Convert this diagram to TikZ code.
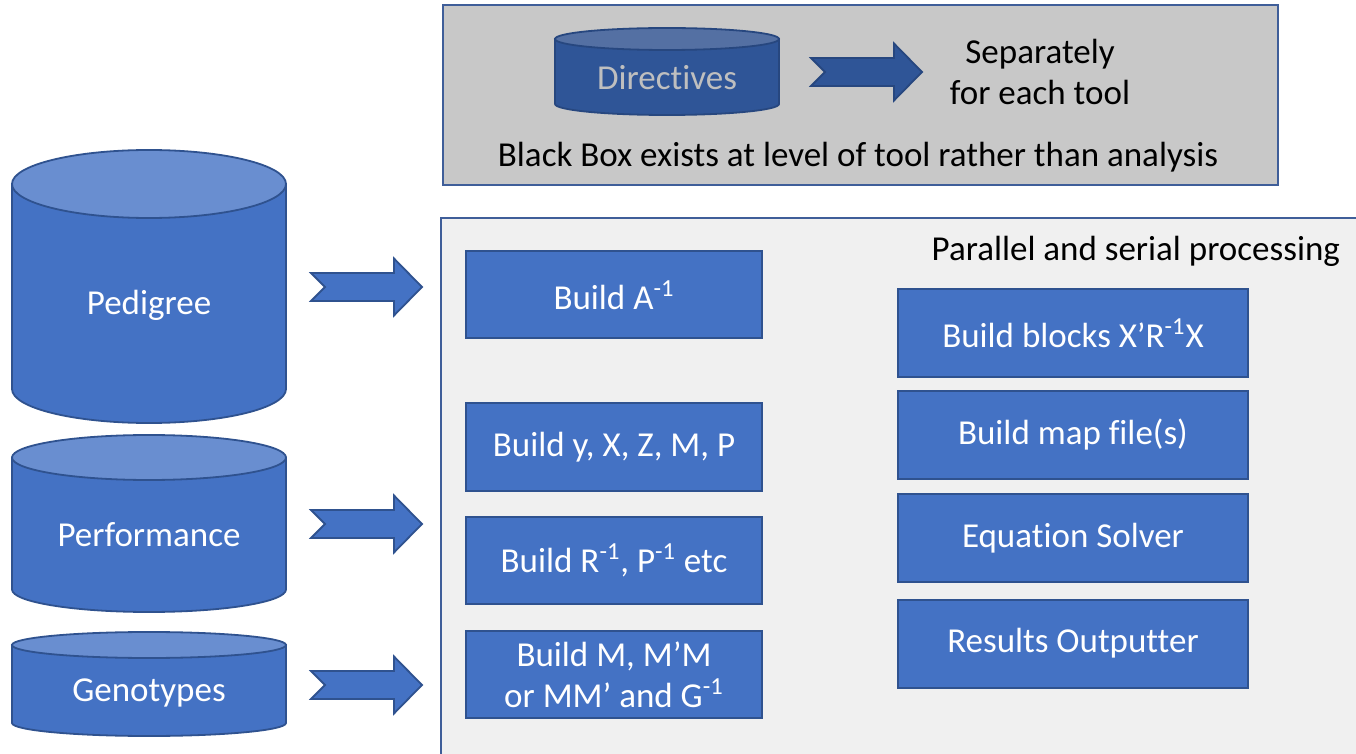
\documentclass[tikz,border=0pt]{standalone}
\usepackage{fontspec}
\setmainfont{Carlito}[Ligatures=NoCommon]

\definecolor{boxblue}{HTML}{4472C4}
\definecolor{boxline}{HTML}{2F528F}
\definecolor{toplight}{HTML}{698ED0}
\definecolor{dirblue}{HTML}{2F5597}
\definecolor{dirtop}{HTML}{5470A3}
\definecolor{dirline}{HTML}{27477F}
\definecolor{panelgray}{HTML}{C8C8C8}
\definecolor{panelline}{HTML}{3F5E99}
\definecolor{lightpanel}{HTML}{F0F0F0}
\definecolor{dirtext}{HTML}{BFBFBF}

% data store: [style]{cx}{top y}{bottom y}{rx}{ry}
\newcommand{\drum}[6][drum]{%
  \filldraw[#1] (#2-#5,#3) -- (#2-#5,#4) arc[start angle=180,end angle=360,x radius=#5,y radius=#6] -- (#2+#5,#3) -- cycle;
  \filldraw[#1 top] (#2,#3) ellipse[x radius=#5,y radius=#6];
}
% notched block arrow: [style]{tail x}{centre y}
\newcommand{\blockarrow}[3][fatarrow]{%
  \filldraw[#1,shift={(#2,#3)}] (0,14) -- (83,14) -- (83,28.5) -- (111,0) -- (83,-28.5) -- (83,-14) -- (0,-14) -- (14,0) -- cycle;
}

\begin{document}
\begin{tikzpicture}[x=0.5pt,y=0.5pt,
    every node/.style={font=\fontsize{17.5}{20.5}\selectfont},
    drum/.style={fill=boxblue,draw=boxline,line width=0.9pt},
    drum top/.style={fill=toplight,draw=boxline,line width=0.9pt},
    dirdrum/.style={fill=dirblue,draw=dirline,line width=0.9pt},
    dirdrum top/.style={fill=dirtop,draw=dirline,line width=0.9pt},
    fatarrow/.style={fill=boxblue,draw=boxline,line width=0.9pt},
    dirarrow/.style={fill=dirblue,draw=dirline,line width=0.9pt},
    task/.style={draw=boxline,fill=boxblue,line width=1pt,text=white,align=center,minimum width=148pt,minimum height=43.5pt},
    wtask/.style={task,minimum width=175pt,minimum height=44pt}]
  \useasboundingbox (0,0) rectangle (1356,-754);

  % black box panel
  \filldraw[fill=panelgray,draw=panelline,line width=1pt] (443,-5) rectangle (1278,-185);
  \drum[dirdrum]{667}{-39}{-104}{112}{11}
  \node[text=dirtext] (dir) at (667,-78) {Directives};
  \blockarrow[dirarrow]{811}{-72}
  \node[align=center] (sep) at (1040,-72) {Separately\\for each tool};
  \node (bbox) at (858,-157) {Black Box exists at level of tool rather than analysis};

  % processing panel
  \filldraw[fill=lightpanel,draw=panelline,line width=1pt] (441,-218) rectangle (1400,-800);
  \node[anchor=east] (par) at (1347,-251) {Parallel and serial processing};

  \node[task] (ainv) at (614,-295) {Build A\textsuperscript{-1}};
  \node[task] (yxz) at (614,-447) {Build y, X, Z, M, P};
  \node[task] (rinv) at (614,-560.5) {Build R\textsuperscript{-1}, P\textsuperscript{-1} etc};
  \node[task] (mmg) at (614,-674.5) {Build M, M’M\\or MM’ and G\textsuperscript{-1}};

  \node[wtask] (blocks) at (1073,-333.5) {Build blocks X’R\textsuperscript{-1}X};
  \node[wtask] (map) at (1073,-435) {Build map file(s)};
  \node[wtask] (solver) at (1073,-538) {Equation Solver};
  \node[wtask] (out) at (1073,-643.5) {Results Outputter};

  % input data
  \drum{149}{-184}{-389}{137}{34}
  \node[text=white] (ped) at (149,-305) {Pedigree};
  \drum{149}{-457.5}{-589.5}{137}{22.5}
  \node[text=white] (perf) at (149,-535) {Performance};
  \drum{149}{-645}{-723}{137}{13}
  \node[text=white] (geno) at (149,-693) {Genotypes};

  \blockarrow{311}{-287}
  \blockarrow{311}{-524}
  \blockarrow{311}{-685}
\end{tikzpicture}
\end{document}
